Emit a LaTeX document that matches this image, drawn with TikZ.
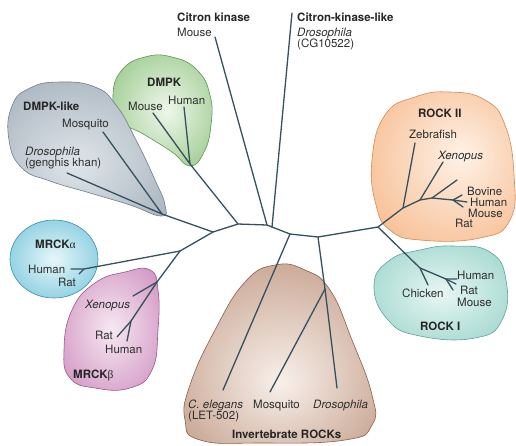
\documentclass[tikz,border=0pt]{standalone}
\usepackage{fontspec}
\setmainfont{TeX Gyre Heros}
\newfontfamily\grk{Liberation Serif}
\definecolor{treeline}{HTML}{36505E}
\definecolor{txt}{HTML}{2E2E2E}
\definecolor{gyO}{HTML}{9AA6B2}\definecolor{gyI}{HTML}{DFE5EA}\definecolor{gyL}{HTML}{6F7E8A}
\definecolor{grO}{HTML}{80BA6E}\definecolor{grI}{HTML}{EEF7EA}\definecolor{grL}{HTML}{5E9450}
\definecolor{cyO}{HTML}{58B9D2}\definecolor{cyI}{HTML}{E6F6FA}\definecolor{cyL}{HTML}{3A8FA6}
\definecolor{pkO}{HTML}{C479B3}\definecolor{pkI}{HTML}{F7E8F2}\definecolor{pkL}{HTML}{9A5589}
\definecolor{brO}{HTML}{B5876E}\definecolor{brI}{HTML}{F8F0EB}\definecolor{brL}{HTML}{8A5F4A}
\definecolor{orO}{HTML}{F5AE78}\definecolor{orI}{HTML}{FEF2E8}\definecolor{orL}{HTML}{D08A56}
\definecolor{tlO}{HTML}{84CBBF}\definecolor{tlI}{HTML}{E8F6F3}\definecolor{tlL}{HTML}{5BA397}
\pgfdeclareradialshading{shgy}{\pgfpoint{-4bp}{-6bp}}{color(0bp)=(gyI); color(44bp)=(gyO); color(60bp)=(gyO)}
\pgfdeclareradialshading{shgr}{\pgfpoint{2bp}{0bp}}{color(0bp)=(grI); color(44bp)=(grO); color(60bp)=(grO)}
\pgfdeclareradialshading{shcy}{\pgfpoint{0bp}{0bp}}{color(0bp)=(cyI); color(44bp)=(cyO); color(60bp)=(cyO)}
\pgfdeclareradialshading{shpk}{\pgfpoint{0bp}{0bp}}{color(0bp)=(pkI); color(44bp)=(pkO); color(60bp)=(pkO)}
\pgfdeclareradialshading{shbr}{\pgfpoint{0bp}{-8bp}}{color(0bp)=(brI); color(44bp)=(brO); color(60bp)=(brO)}
\pgfdeclareradialshading{shor}{\pgfpoint{6bp}{4bp}}{color(0bp)=(orI); color(44bp)=(orO); color(60bp)=(orO)}
\pgfdeclareradialshading{shtl}{\pgfpoint{0bp}{0bp}}{color(0bp)=(tlI); color(44bp)=(tlO); color(60bp)=(tlO)}
\tikzset{
  blob/.style={line width=0.6pt},
  branch/.style={draw=treeline, line width=1.3pt, line join=round, line cap=round},
  lbl/.style={anchor=base west, inner sep=0pt, text=txt, font=\fontsize{11.5}{13}\selectfont},
  ttl/.style={lbl, font=\fontsize{11.5}{13}\selectfont\bfseries, text=black!85},
  itl/.style={lbl, font=\fontsize{11.5}{13}\selectfont\itshape},
}
\begin{document}
\begin{tikzpicture}[x=1pt,y=-1pt]
\useasboundingbox (0,0) rectangle (516,445);
% blobs
\shadedraw[blob, draw=grL, shading=shgr] plot[smooth cycle, tension=0.8] coordinates {(190,166) (172,152) (145,135) (120,120) (113,95) (122,70) (145,57) (172,57) (197,70) (210,95) (211,125) (204,152)};
\shadedraw[blob, draw=gyL, shading=shgy] plot[smooth cycle, tension=0.8] coordinates {(161,216) (130,205) (90,193) (50,181) (22,168) (9,140) (12,106) (30,88) (60,82) (95,87) (116,105) (136,140) (155,180) (165,205)};
\shadedraw[blob, draw=cyL, shading=shcy] (54,259) ellipse [x radius=44, y radius=39];
\shadedraw[blob, draw=pkL, shading=shpk] plot[smooth cycle, tension=0.8] coordinates {(150,270) (158,290) (158,330) (152,370) (130,388) (95,388) (70,378) (64,350) (72,310) (95,283) (125,272)};
\shadedraw[blob, draw=brL, shading=shbr] plot[smooth cycle, tension=0.8] coordinates {(275,265) (305,270) (330,290) (352,340) (372,395) (372,425) (345,440) (260,443) (200,440) (185,420) (190,385) (215,330) (245,282)};
\shadedraw[blob, draw=orL, shading=shor] plot[smooth cycle, tension=0.8] coordinates {(450,92) (485,100) (505,125) (514,175) (510,220) (480,238) (420,240) (390,230) (376,205) (372,160) (385,115) (415,97)};
\shadedraw[blob, draw=tlL, shading=shtl] plot[smooth cycle, tension=0.8] coordinates {(453,246) (490,252) (506,280) (502,320) (475,338) (420,336) (388,320) (374,285) (390,260) (420,250)};
% tree coordinates
\coordinate (A) at (238,224);
\coordinate (B) at (213,232);
\coordinate (DL) at (162,214);
\coordinate (DM) at (190,164);
\coordinate (MR) at (180,251);
\coordinate (C1) at (267,225);
\coordinate (C2) at (272,227);
\coordinate (D) at (290,234);
\coordinate (E) at (318,237);
\coordinate (F) at (378,227);
\coordinate (IM) at (325,289);
\coordinate (G) at (403,208);
\coordinate (H) at (420,200);
\coordinate (I) at (432,198);
\coordinate (J) at (453,200);
\coordinate (K) at (420,268);
\coordinate (L) at (446,279);
\coordinate (Ma) at (84,269);
\coordinate (Mb) at (157,282);
\coordinate (Mc) at (131,321);
% leaf ends
\coordinate (eCK) at (215,37);
\coordinate (eCL) at (292,13);
\coordinate (eDMm) at (153,113);
\coordinate (eDMh) at (184,107);
\coordinate (eDLm) at (103,132);
\coordinate (eDLd) at (67,173);
\coordinate (eMah) at (71,269);
\coordinate (eMar) at (79,274);
\coordinate (eMbx) at (133,296);
\coordinate (eMbr) at (117,337);
\coordinate (eMbh) at (127,341);
\coordinate (eCe) at (223,390);
\coordinate (eMo) at (270,392);
\coordinate (eDr) at (337,388);
\coordinate (eZf) at (415,143);
\coordinate (eXe) at (443,162);
\coordinate (eI) at (457,180);
\coordinate (eJ1) at (467,202);
\coordinate (eJ2) at (462,195);
\coordinate (eJ3) at (463,207);
\coordinate (eCh) at (428,285);
\coordinate (eL1) at (457,279);
\coordinate (eL2) at (453,290);
\coordinate (eL3) at (456,284);
% branches
\path[branch] (DL) -- (B) -- (A) -- (C1) -- (C2) -- (D) -- (E) -- (F);
\path[branch] (DM) -- (A);
\path[branch] (B) -- (MR);
\path[branch] (eCK) -- (C1);
\path[branch] (eCL) -- (C2);
\path[branch] (eDMm) -- (DM) -- (eDMh);
\path[branch] (eDLm) -- (DL) -- (eDLd);
\path[branch] (MR) -- (Ma) -- (eMah);
\path[branch] (Ma) -- (eMar);
\path[branch] (MR) -- (Mb) -- (eMbx);
\path[branch] (Mb) -- (Mc) -- (eMbr);
\path[branch] (Mc) -- (eMbh);
\path[branch] (D) -- (eCe);
\path[branch] (E) -- (IM) -- (eDr);
\path[branch] (IM) -- (eMo);
\path[branch] (F) -- (G) -- (H) -- (I) -- (J) -- (eJ1);
\path[branch] (G) -- (eZf);
\path[branch] (H) -- (eXe);
\path[branch] (I) -- (eI);
\path[branch] (J) -- (eJ2);
\path[branch] (J) -- (eJ3);
\path[branch] (F) -- (K) -- (eCh);
\path[branch] (K) -- (L) -- (eL1);
\path[branch] (L) -- (eL2);
\path[branch] (L) -- (eL3);
% labels
\node[ttl] (tCK) at (177,21.5) {Citron kinase};
\node[lbl] (tCKm) at (177,36) {Mouse};
\node[ttl] (tCL) at (297,21.5) {Citron-kinase-like};
\node[itl] (tCLd) at (297,36) {Drosophila};
\node[lbl] (tCLc) at (297,47.5) {(CG10522)};
\node[ttl] (tDM) at (147,86) {DMPK};
\node[lbl] (tDMm) at (128,110) {Mouse};
\node[lbl] (tDMh) at (168,104) {Human};
\node[ttl] (tDL) at (23,110) {DMPK-like};
\node[lbl] (tDLm) at (62,127) {Mosquito};
\node[itl] (tDLd) at (25,155) {Drosophila};
\node[lbl] (tDLg) at (25,166.5) {(genghis khan)};
\node[ttl] (tMa) at (35,248) {MRCK{\grk\mdseries α}};
\node[lbl] (tMah) at (28,273) {Human};
\node[lbl] (tMar) at (58,286) {Rat};
\node[itl] (tMbx) at (85,308) {Xenopus};
\node[lbl] (tMbr) at (95,339) {Rat};
\node[lbl] (tMbh) at (105,353) {Human};
\node[ttl] (tMb) at (73,378) {MRCK{\grk\mdseries β}};
\node[itl] (tIc) at (188,408) {C. elegans};
\node[lbl] (tIl) at (188,419.5) {(LET-502)};
\node[lbl] (tIm) at (253,408) {Mosquito};
\node[itl] (tId) at (313,408) {Drosophila};
\node[ttl] (tI) at (232,438) {Invertebrate ROCKs};
\node[ttl] (tR2) at (418,117) {ROCK II};
\node[lbl] (tR2z) at (409,138) {Zebrafish};
\node[itl] (tR2x) at (438,159) {Xenopus};
\node[lbl] (tR2b) at (467,195.5) {Bovine};
\node[lbl] (tR2h) at (470,206.5) {Human};
\node[lbl] (tR2m) at (468,217) {Mouse};
\node[lbl] (tR2r) at (455,227.5) {Rat};
\node[ttl] (tR1) at (420,330) {ROCK I};
\node[lbl] (tR1h) at (457,279) {Human};
\node[lbl] (tR1r) at (460,294.5) {Rat};
\node[lbl] (tR1m) at (457,306) {Mouse};
\node[lbl] (tR1c) at (402,297.5) {Chicken};
\end{tikzpicture}
\end{document}
